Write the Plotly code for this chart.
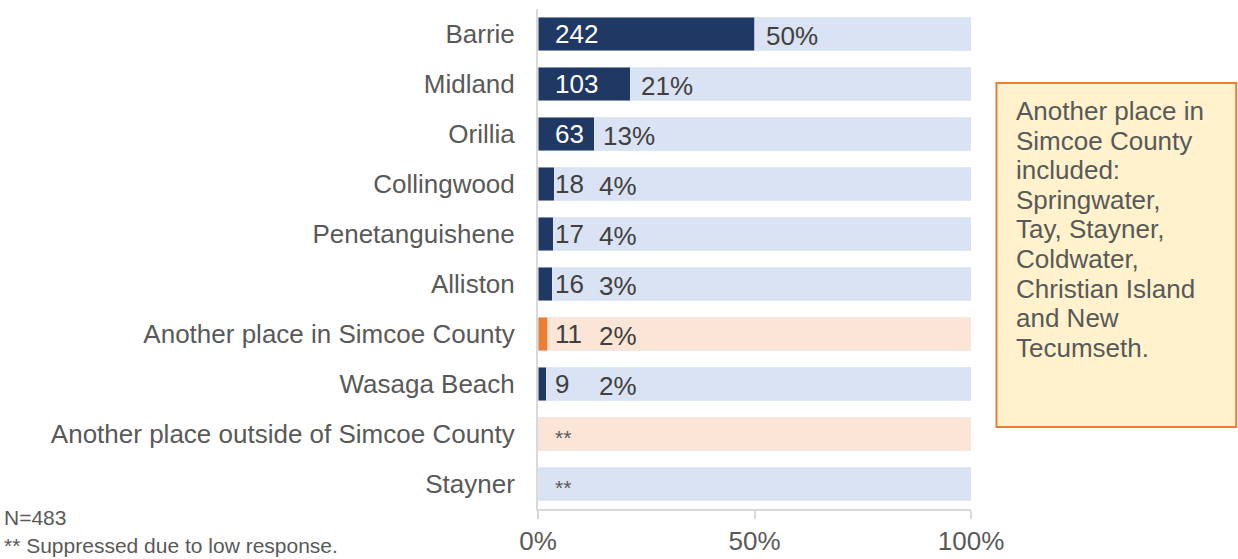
import plotly.graph_objects as go

categories = ["Barrie", "Midland", "Orillia", "Collingwood", "Penetanguishene", "Alliston",
              "Another place in Simcoe County", "Wasaga Beach",
              "Another place outside of Simcoe County", "Stayner"]
counts = [242, 103, 63, 18, 17, 16, 11, 9, None, None]
shares = [0.501, 0.213, 0.130, 0.037, 0.035, 0.033, 0.023, 0.019, 0.0, 0.0]
pct_labels = ["50%", "21%", "13%", "4%", "4%", "3%", "2%", "2%", "**", "**"]
highlight = [False, False, False, False, False, False, True, False, True, False]

box_lines = ["Another place in", "Simcoe County", "included:", "Springwater,", "Tay, Stayner,",
             "Coldwater,", "Christian Island", "and New", "Tecumseth."]
notes = ["N=483", "** Suppressed due to low response."]

NAVY, LBLUE, ORANGE, LORANGE = "#203864", "#DAE3F3", "#ED7D31", "#FBE5D6"
FONT = "Liberation Sans, Arial, sans-serif"

dark_colors = [ORANGE if h else NAVY for h in highlight]
light_colors = [LORANGE if h else LBLUE for h in highlight]

fig = go.Figure()
fig.add_trace(go.Bar(y=categories, x=shares, orientation="h", marker=dict(color=dark_colors),
                     width=0.667, hoverinfo="skip", showlegend=False))
fig.add_trace(go.Bar(y=categories, x=[1 - s for s in shares], orientation="h",
                     marker=dict(color=light_colors), width=0.667, hoverinfo="skip", showlegend=False))

ann = []
for cat, c, s, p in zip(categories, counts, shares, pct_labels):
    if c is not None:
        inside = s > 0.1
        ann.append(dict(x=0, y=cat, xref="x", yref="y", text=str(c), showarrow=False,
                        xanchor="left", xshift=15,
                        font=dict(size=26, color="white" if inside else "#404040", family=FONT)))
        ann.append(dict(x=max(s, 0.12), y=cat, xref="x", yref="y", text=p, showarrow=False,
                        xanchor="left", xshift=9 if s > 0.15 else 7, yshift=-2,
                        font=dict(size=26, color="#404040", family=FONT)))
    else:
        ann.append(dict(x=0, y=cat, xref="x", yref="y", text=p, showarrow=False,
                        xanchor="left", xshift=15, yshift=-3,
                        font=dict(size=21, color="#595959", family=FONT)))

# pixel helpers for paper coords (plot area: x 538..971.5, y 9..509)
def px_x(px):
    return (px - 538) / 433.5

def px_y(py):
    return (509 - py) / 500

for i, line in enumerate(box_lines):
    ann.append(dict(x=px_x(1015), y=px_y(111 + 29.6 * i), xref="paper", yref="paper", text=line,
                    showarrow=False, xanchor="left", yanchor="middle",
                    font=dict(size=26, color="#595959", family=FONT)))
for i, line in enumerate(notes):
    ann.append(dict(x=px_x(1), y=px_y(517 + 28 * i), xref="paper", yref="paper", text=line,
                    showarrow=False, xanchor="left", yanchor="middle",
                    font=dict(size=21, color="#595959", family=FONT)))

fig.update_layout(
    barmode="stack",
    width=1238, height=559,
    margin=dict(l=538, r=266.5, t=9, b=50),
    plot_bgcolor="white", paper_bgcolor="white",
    font=dict(family=FONT, size=26, color="#595959"),
    annotations=ann,
    shapes=[dict(type="rect", xref="paper", yref="paper",
                 x0=px_x(997), x1=px_x(1237), y0=px_y(427), y1=px_y(83),
                 fillcolor="#FFF2CC", line=dict(color=ORANGE, width=2), layer="below")],
    bargap=0.333,
)
fig.update_xaxes(range=[0, 1], tickvals=[0, 0.5, 1], ticktext=["0%", "50%", "100%"],
                 showgrid=False, zeroline=False, showline=True, linecolor="#D9D9D9", linewidth=2,
                 ticks="outside", ticklen=8, tickcolor="#D9D9D9", tickwidth=2, ticklabelstandoff=0,
                 tickfont=dict(size=26, color="#595959"), fixedrange=True, automargin=False)
fig.update_yaxes(autorange="reversed", showgrid=False, zeroline=False, showline=True,
                 linecolor="#D9D9D9", linewidth=2, ticks="", ticklabelstandoff=16,
                 tickfont=dict(size=26, color="#595959"), fixedrange=True, automargin=False)

fig.write_html("out.html", config={"displayModeBar": False},
               post_script="document.body.style.margin='0';document.body.style.overflow='hidden';")
